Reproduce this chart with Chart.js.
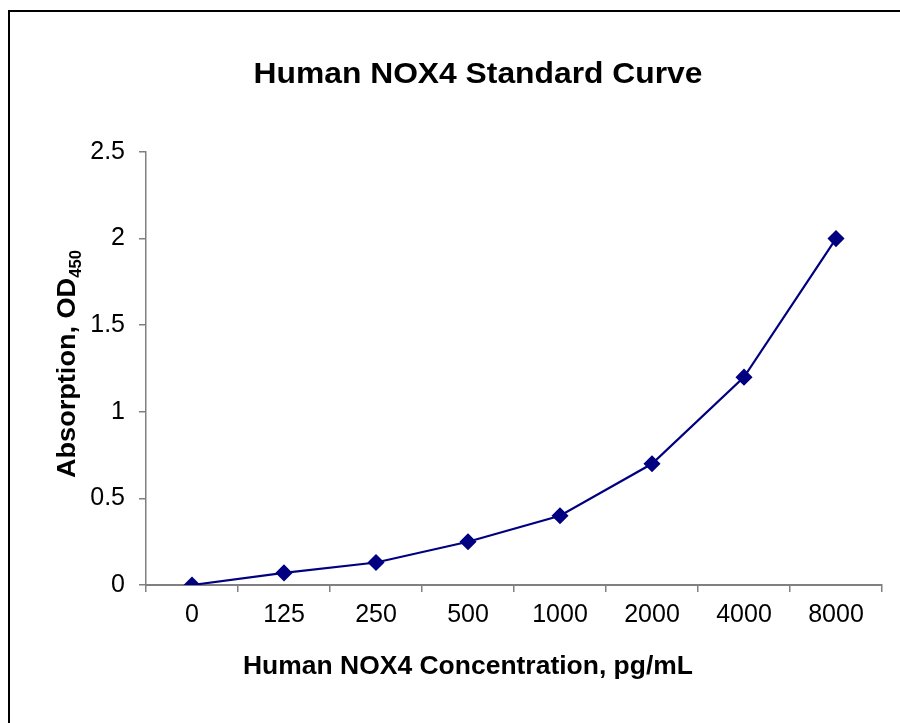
<!DOCTYPE html>
<html>
<head>
<meta charset="utf-8">
<script src="https://cdn.jsdelivr.net/npm/chart.js@4.4.1/dist/chart.umd.min.js"></script>
<style>
  html, body { margin: 0; padding: 0; background: #fff; overflow: hidden; }
  #wrap { position: relative; width: 900px; height: 723px; }
  #frame { position: absolute; left: 8px; top: 10px; width: 1000px; height: 1000px;
           border-left: 2px solid #000; border-top: 2px solid #000; }
  canvas { position: absolute; left: 0; top: 0; }
</style>
</head>
<body>
<div id="wrap">
  <div id="frame"></div>
  <canvas id="chart" width="900" height="723"></canvas>
</div>
<script>
const categories = ['0', '125', '250', '500', '1000', '2000', '4000', '8000'];
const absorbance = [0, 0.07, 0.13, 0.25, 0.40, 0.70, 1.20, 2.00];
const yTicks = [0, 0.5, 1, 1.5, 2, 2.5];

const chartTitle = 'Human NOX4 Standard Curve';
const xTitle = 'Human NOX4 Concentration, pg/mL';
const yTitle = 'Absorption, OD';
const ySub = '450';

const FONT = '"Liberation Sans", Arial, sans-serif';

// draw text centred at (cx, y), squeezed/stretched to a given width
function fitText(ctx, text, cx, y, width) {
  const w = ctx.measureText(text).width;
  const k = width / w;
  ctx.save();
  ctx.translate(cx, y);
  ctx.scale(k, 1);
  ctx.textAlign = 'center';
  ctx.fillText(text, 0, 0);
  ctx.restore();
}

// titles drawn by hand so the y title can carry a subscript
const labelsPlugin = {
  id: 'labels',
  afterDraw(chart) {
    const ctx = chart.ctx;
    ctx.save();
    ctx.fillStyle = '#000';
    ctx.textBaseline = 'alphabetic';
    ctx.font = 'bold 30px ' + FONT;
    fitText(ctx, chartTitle, 478, 83, 449);
    ctx.font = 'bold 26px ' + FONT;
    fitText(ctx, xTitle, 468, 674, 450);

    // y title, rotated
    ctx.translate(75, 364);
    ctx.rotate(-Math.PI / 2);
    ctx.font = 'bold 26px ' + FONT;
    const w1 = ctx.measureText(yTitle).width;
    ctx.font = 'bold 16px ' + FONT;
    const w2 = ctx.measureText(ySub).width;
    const k = 228 / (w1 + w2);
    ctx.scale(k, 1);
    const start = -(w1 + w2) / 2;
    ctx.textAlign = 'left';
    ctx.font = 'bold 26px ' + FONT;
    ctx.fillText(yTitle, start, 0);
    ctx.font = 'bold 16px ' + FONT;
    ctx.fillText(ySub, start + w1, 6);
    ctx.restore();
  }
};

new Chart(document.getElementById('chart'), {
  type: 'line',
  data: {
    labels: categories,
    datasets: [{
      data: absorbance,
      borderColor: '#000080',
      backgroundColor: '#000080',
      borderWidth: 2.2,
      pointStyle: 'rectRot',
      pointRadius: 7,
      pointHoverRadius: 7,
      pointBackgroundColor: '#000080',
      pointBorderColor: '#000080',
      tension: 0
    }]
  },
  options: {
    responsive: false,
    animation: false,
    layout: { padding: { left: 0, top: 152, right: 18, bottom: 0 } },
    plugins: { legend: { display: false }, title: { display: false }, tooltip: { enabled: false } },
    scales: {
      x: {
        type: 'category',
        offset: true,
        grid: { display: true, offset: true, drawOnChartArea: false, drawTicks: true,
                tickLength: 7, color: '#808080', lineWidth: 1.5 },
        border: { display: true, color: '#808080', width: 2 },
        ticks: { color: '#000', font: { family: FONT, size: 25 }, padding: 8, maxRotation: 0 },
        afterFit(scale) { scale.height = 723 - 585; }
      },
      y: {
        min: 0,
        max: 2.5,
        afterBuildTicks(scale) { scale.ticks = yTicks.map(v => ({ value: v })); },
        grid: { display: true, drawOnChartArea: false, drawTicks: true,
                tickLength: 7, color: '#808080', lineWidth: 1.5 },
        border: { display: true, color: '#808080', width: 1.5 },
        ticks: { color: '#000', font: { family: FONT, size: 25 }, padding: 14,
                 callback: v => String(v) },
        afterFit(scale) { scale.width = 146; }
      }
    }
  },
  plugins: [labelsPlugin]
});
</script>
</body>
</html>
